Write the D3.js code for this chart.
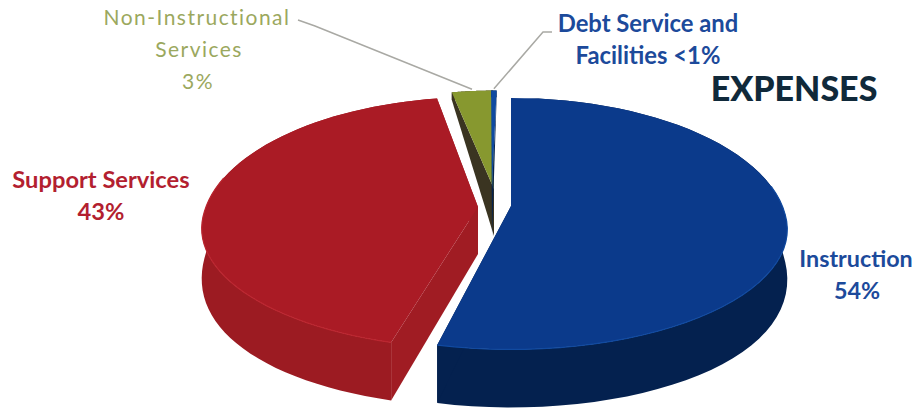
<!DOCTYPE html>
<html>
<head>
<meta charset="utf-8">
<script src="https://cdn.jsdelivr.net/npm/d3@7/dist/d3.min.js"></script>
<style>
  html, body { margin: 0; padding: 0; background: #fff; }
  svg { display: block; }
  text { text-anchor: middle; }
</style>
</head>
<body>
<svg id="chart" width="917" height="410"></svg>
<script>
// Expense shares, in the order the slices run clockwise from twelve o'clock.
const categories = ["Instruction", "Support Services", "Non-Instructional Services", "Debt Service and Facilities"];
const shares = [54, 43, 3, 0.4];
const topColors = ["#0b3a8b", "#aa1b25", "#87982f", "#0f4aa0"];
const rimColors = ["#114aa0", "#bb2630", "#87982f", "#0f4aa0"];
const wallColors = ["#04214f", "#9c1b22", "#3a3421", "#06224e"];
const cutColors = ["#04214f", "#a01c23", "#3a3421", "#06224e"];

// Each slice is pulled away from the pie on its own.
const hubX = [511, 478, 494, 492];
const hubY = [206, 207, 189, 189];
const rimDrop = [8, 6, 8, 8];
const radiusFactor = [1, 1, 0.9, 0.9];
const spinDegrees = [0, 2.5, 1.2, 1.2];

// Perspective of the tilted disc: the near half is drawn a little flatter than the far half.
const radiusX = 274, radiusBack = 131, radiusFront = 118, perspective = 0.129, wallHeight = 58;

const wallDrop = v => wallHeight * (1 - Math.pow((1 - v) / 2, 2.4));

function project(i, angle, r, lowered) {
  const a = angle + spinDegrees[i] * Math.PI / 180;
  const u = Math.sin(a) * r, v = -Math.cos(a) * r;
  const s = 1 / (1 - perspective * v);
  const radiusY = v < 0 ? radiusBack : radiusFront;
  return [
    hubX[i] + radiusX * u * s,
    hubY[i] + rimDrop[i] * r + radiusY * v * s + (lowered ? wallDrop(v) : 0)
  ];
}

const outline = d3.line().curve(d3.curveLinear);
const sweep = (a0, a1) => d3.range(0, 61).map(t => a0 + (a1 - a0) * t / 60);

const slices = d3.pie().sort(null).value(d => d).startAngle(0).endAngle(2 * Math.PI)(shares);
const svg = d3.select("#chart");

// Back slices first, so the nearer ones overlap them.
const paintOrder = [1, 2, 3, 0];
paintOrder.forEach(i => {
  const { startAngle: a0, endAngle: a1 } = slices[i];
  const r = radiusFactor[i];
  const g = svg.append("g").attr("class", "slice");
  const angles = sweep(a0, a1);

  // Outer wall
  const wall = angles.map(a => project(i, a, r, false))
    .concat(angles.slice().reverse().map(a => project(i, a, r, true)));
  g.append("path").attr("d", outline(wall) + "Z").attr("fill", wallColors[i]);

  // Cut faces on both radii
  [a0, a1].forEach(a => {
    const face = [project(i, a, 0, false), project(i, a, r, false), project(i, a, r, true), project(i, a, 0, true)];
    g.append("path").attr("d", outline(face) + "Z").attr("fill", cutColors[i]);
  });

  // Top face
  const top = [project(i, a0, 0, false)].concat(angles.map(a => project(i, a, r, false)));
  g.append("path").attr("d", outline(top) + "Z").attr("fill", topColors[i]);

  // Lighter edge along the front of the rim
  const rim = angles.filter(a => Math.cos(a) < 0.25).map(a => project(i, a, r, false));
  if (rim.length > 1) {
    g.append("path").attr("d", outline(rim)).attr("fill", "none")
      .attr("stroke", rimColors[i]).attr("stroke-width", 1.2);
  }
});

// Leader lines from the two small slices to their labels
const mid = i => (slices[i].startAngle + slices[i].endAngle) / 2;
const leaderRuns = [
  { slice: 2, via: [[315, 26], [298, 20]] },
  { slice: 3, via: [[543, 32], [552, 32]] }
];
leaderRuns.forEach(({ slice, via }) => {
  const tip = project(slice, mid(slice), radiusFactor[slice] * 1.02, false);
  svg.append("path")
    .attr("d", outline([tip].concat(via)))
    .attr("fill", "none").attr("stroke", "#a9a9a4").attr("stroke-width", 1.5);
});

// Text labels
const labelFont = "Lato, 'Open Sans', sans-serif";
const labelLines = [
  { text: "Non-Instructional", x: 197, y: 25, fill: "#9ba85e", weight: 400, size: 21, spacing: 1.45 },
  { text: "Services", x: 199, y: 57, fill: "#9ba85e", weight: 400, size: 21, spacing: 1.45 },
  { text: "3%", x: 198, y: 89, fill: "#9ba85e", weight: 400, size: 21, spacing: 1.45 },
  { text: "Debt Service and", x: 648, y: 32, fill: "#1c4a9b", weight: 700, size: 23.8, spacing: 0 },
  { text: "Facilities <1%", x: 648, y: 64, fill: "#1c4a9b", weight: 700, size: 23.8, spacing: 0 },
  { text: "EXPENSES", x: 794, y: 101, fill: "#10293a", weight: 900, size: 34, spacing: 0 },
  { text: "Support Services", x: 101, y: 188, fill: "#b31f30", weight: 700, size: 23.7, spacing: 0 },
  { text: "43%", x: 101, y: 220, fill: "#b31f30", weight: 700, size: 23.7, spacing: 0 },
  { text: "Instruction", x: 856, y: 267, fill: "#1c4a9b", weight: 700, size: 23.3, spacing: 0 },
  { text: "54%", x: 857, y: 299, fill: "#1c4a9b", weight: 700, size: 23.3, spacing: 0 }
];
svg.selectAll("text.label").data(labelLines).join("text")
  .attr("class", "label")
  .attr("x", d => d.x).attr("y", d => d.y)
  .attr("fill", d => d.fill)
  .attr("font-family", labelFont)
  .attr("font-weight", d => d.weight)
  .attr("font-size", d => d.size)
  .attr("letter-spacing", d => d.spacing)
  .text(d => d.text);
</script>
</body>
</html>
